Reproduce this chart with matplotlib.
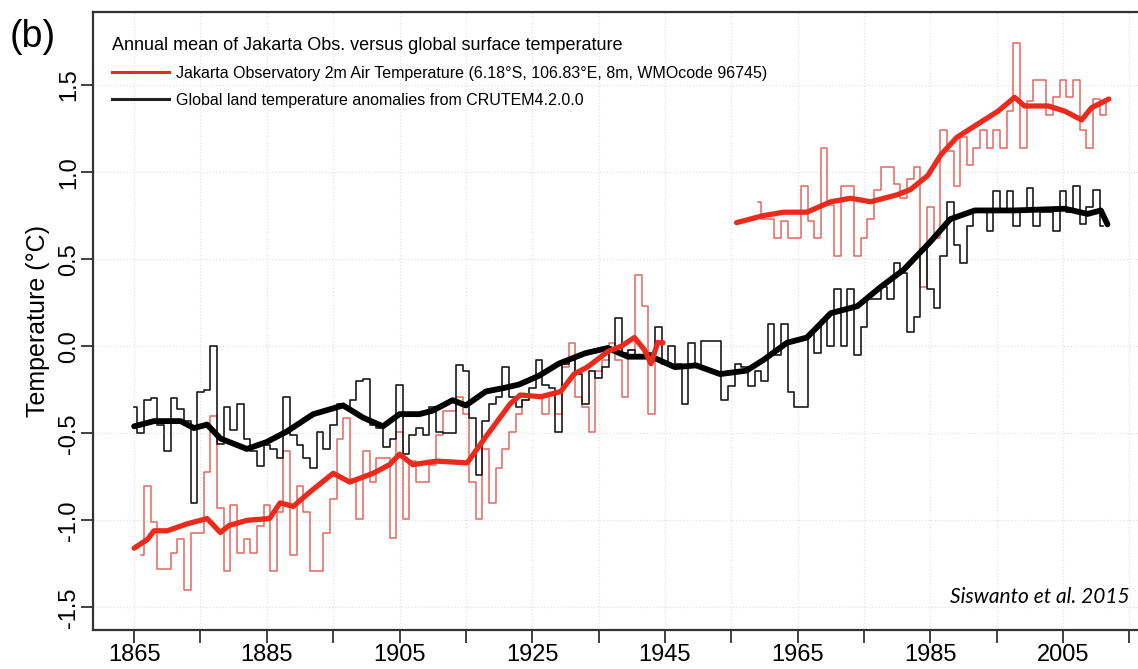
import numpy as np
import matplotlib
matplotlib.use("Agg")
import matplotlib.pyplot as plt
from matplotlib.lines import Line2D

plt.rcParams['font.family'] = ['Liberation Sans Narrow', 'Liberation Sans', 'DejaVu Sans']

# global land temperature anomalies (CRUTEM4.2.0.0), annual, 1865-2011
glob_years = np.arange(1865, 2012)
glob_vals = [
    -0.35, -0.50, -0.31, -0.30, -0.45, -0.60, -0.30, -0.36, -0.43, -0.90,
    -0.26, -0.25, 0.00, -0.56, -0.35, -0.48, -0.33, -0.53, -0.60, -0.69,
    -0.57, -0.59, -0.64, -0.29, -0.51, -0.57, -0.64, -0.70, -0.49, -0.59,
    -0.45, -0.33, -0.35, -0.31, -0.20, -0.19, -0.45, -0.47, -0.58, -0.53,
    -0.22, -0.62, -0.51, -0.47, -0.51, -0.35, -0.49, -0.50, -0.50, -0.11,
    -0.14, -0.41, -0.74, -0.43, -0.33, -0.29, -0.12, -0.29, -0.35, -0.31,
    -0.24, -0.08, -0.22, -0.24, -0.49, -0.10, -0.08, -0.16, -0.33, -0.14,
    -0.18, -0.12, -0.02, 0.16, -0.04, -0.02, -0.06, -0.06, -0.04, 0.11,
    -0.10, 0.00, -0.10, -0.33, 0.02, -0.12, 0.03, 0.03, 0.03, -0.31,
    -0.23, -0.10, -0.12, -0.23, -0.14, -0.20, 0.13, -0.05, 0.13, -0.26,
    -0.35, -0.35, 0.07, -0.04, 0.15, 0.00, 0.33, 0.00, 0.33, -0.05,
    0.11, 0.27, 0.27, 0.34, 0.27, 0.48, 0.42, 0.08, 0.17, 0.56,
    0.33, 0.22, 0.52, 0.83, 0.58, 0.48, 0.69, 0.77, 0.77, 0.66,
    0.89, 0.77, 0.89, 0.69, 0.77, 0.91, 0.69, 0.77, 0.77, 0.66,
    0.89, 0.77, 0.92, 0.70, 0.80, 0.90, 0.69,
]

# Jakarta Observatory annual mean, two segments
jak1_years = np.arange(1866, 1945)
jak1_vals = [
    -1.20, -0.80, -1.01, -1.28, -1.28, -1.19, -1.11, -1.40, -1.07, -1.07,
    -0.72, -0.40, -0.93, -1.29, -0.91, -1.19, -1.11, -1.19, -1.03, -0.91,
    -1.29, -0.95, -0.60, -1.20, -0.80, -0.95, -1.29, -1.29, -1.07, -0.88,
    -0.53, -0.41, -0.76, -0.99, -0.60, -0.78, -0.64, -0.64, -1.10, -0.49,
    -0.99, -0.66, -0.78, -0.78, -0.68, -0.51, -0.37, -0.37, -0.29, -0.39,
    -0.78, -0.99, -0.59, -0.90, -0.70, -0.59, -0.49, -0.39, -0.31, -0.29,
    -0.29, -0.39, -0.28, -0.39, -0.12, 0.02, -0.29, -0.35, -0.49, -0.14,
    -0.08, 0.02, -0.08, -0.29, -0.02, 0.41, 0.23, -0.39, 0.03,
]
jak2_years = np.arange(1959, 2013)
jak2_vals = [
    0.83, 0.73, 0.73, 0.62, 0.72, 0.62, 0.62, 0.92, 0.72, 0.62,
    1.14, 0.81, 0.52, 0.92, 0.92, 0.52, 0.62, 0.73, 0.90, 1.03,
    1.03, 0.93, 0.85, 0.96, 1.03, 0.34, 0.80, 0.62, 1.24, 1.12,
    0.92, 1.20, 1.04, 1.14, 1.24, 1.14, 1.24, 1.14, 1.35, 1.74,
    1.14, 1.41, 1.53, 1.53, 1.33, 1.43, 1.53, 1.43, 1.53, 1.24,
    1.14, 1.42, 1.33, 1.42,
]

# smoothed curves
glob_sm_years = [1865, 1868, 1872, 1874, 1876, 1878, 1882, 1885, 1888, 1892,
                 1896.5, 1899.5, 1902.5, 1905, 1908, 1910, 1913, 1915, 1918, 1920.7,
                 1923, 1926, 1929, 1933, 1936.4, 1939.4, 1943, 1946.5, 1949.7, 1953.3,
                 1957.3, 1959.8, 1963.4, 1966.4, 1970, 1974, 1977.5, 1981, 1985, 1988,
                 1991.7, 1997.7, 2005.3, 2008.7, 2010.7, 2011.7]
glob_sm_vals = [-0.46, -0.43, -0.43, -0.47, -0.45, -0.53, -0.59, -0.55, -0.49, -0.39,
                -0.34, -0.41, -0.46, -0.39, -0.39, -0.37, -0.31, -0.34, -0.26, -0.24,
                -0.22, -0.17, -0.10, -0.04, -0.01, -0.06, -0.06, -0.12, -0.11, -0.16,
                -0.14, -0.08, 0.02, 0.05, 0.19, 0.23, 0.34, 0.44, 0.60, 0.73,
                0.78, 0.78, 0.79, 0.76, 0.78, 0.70]

jak1_sm_years = [1865, 1867, 1868, 1870, 1873, 1876, 1878, 1879.3, 1882, 1885.4,
                 1887, 1889, 1891.4, 1895, 1897.5, 1901, 1903.5, 1905, 1907, 1910.6,
                 1915.2, 1918.2, 1921.7, 1923.2, 1926.3, 1929.3, 1931.3, 1933.3, 1936.4, 1938.4,
                 1940.4, 1941.9, 1942.9, 1943.9, 1944.7]
jak1_sm_vals = [-1.16, -1.11, -1.06, -1.06, -1.02, -0.99, -1.07, -1.03, -1.00, -0.99,
                -0.90, -0.92, -0.84, -0.73, -0.78, -0.73, -0.68, -0.62, -0.68, -0.66,
                -0.67, -0.51, -0.33, -0.28, -0.29, -0.26, -0.16, -0.12, -0.03, 0.00,
                0.05, -0.02, -0.10, 0.02, 0.02]

jak2_sm_years = [1955.8, 1959.8, 1962.9, 1966.4, 1970, 1973, 1976, 1980, 1982, 1984.6,
                 1986.6, 1989, 1992.7, 1995.2, 1997.7, 1999.2, 2002.8, 2005.3, 2007.8, 2009.3,
                 2011.9]
jak2_sm_vals = [0.71, 0.75, 0.77, 0.77, 0.83, 0.85, 0.83, 0.87, 0.90, 0.98,
                1.10, 1.20, 1.29, 1.35, 1.43, 1.38, 1.38, 1.35, 1.30, 1.37,
                1.42]

x_ticks = np.arange(1865, 2016, 10)
x_labels = [str(y) if (y - 1865) % 20 == 0 else '' for y in x_ticks]
y_ticks = [-1.5, -1.0, -0.5, 0.0, 0.5, 1.0, 1.5]
y_labels = ['-1.5', '-1.0', '-0.5', '0.0', '0.5', '1.0', '1.5']

fig = plt.figure(figsize=(11.38, 6.69), dpi=100)
ax = fig.add_axes([93 / 1138, 39 / 669, 1045 / 1138, 618 / 669])

red_thin = '#e4675f'
red_thick = '#ec2a1c'

ax.step(jak1_years, jak1_vals, where='mid', color=red_thin, lw=1.1)
ax.step(jak2_years, jak2_vals, where='mid', color=red_thin, lw=1.1)
ax.step(glob_years, glob_vals, where='mid', color='#1a1a1a', lw=1.2)
ax.plot(glob_sm_years, glob_sm_vals, color='black', lw=4.2, solid_capstyle='round')
ax.plot(jak1_sm_years, jak1_sm_vals, color=red_thick, lw=3.8, solid_capstyle='round')
ax.plot(jak2_sm_years, jak2_sm_vals, color=red_thick, lw=3.8, solid_capstyle='round')

ax.set_xlim(1858.8, 2016.3)
ax.set_ylim(-1.63, 1.92)
ax.set_xticks(x_ticks)
ax.set_xticklabels(x_labels, fontsize=17)
ax.set_yticks(y_ticks)
ax.set_yticklabels(y_labels, fontsize=17, rotation=90, va='center')
ax.tick_params(axis='both', direction='out', length=9, width=1.3, color='#333333')
ax.tick_params(axis='x', pad=1)
ax.tick_params(axis='y', pad=0)
ax.grid(True, color='#e2e2e2', linestyle=':', lw=0.9)
ax.spines['right'].set_visible(False)
for s in ['left', 'bottom', 'top']:
    ax.spines[s].set_linewidth(1.6)
    ax.spines[s].set_color('#333333')

ax.set_ylabel('Temperature (°C)', fontsize=18, labelpad=6)

handles = [Line2D([], [], color=red_thick, lw=2.2), Line2D([], [], color='#222222', lw=2.2)]
labels = ['Jakarta Observatory 2m Air Temperature (6.18°S, 106.83°E, 8m, WMOcode 96745)',
          'Global land temperature anomalies from CRUTEM4.2.0.0']
leg = ax.legend(handles, labels, loc='upper left', bbox_to_anchor=(0.012, 0.97),
                frameon=False, fontsize=11.5, handlelength=3.6, handletextpad=0.4,
                labelspacing=0.75, borderaxespad=0,
                title='Annual mean of Jakarta Obs. versus global surface temperature',
                title_fontsize=13, alignment='left')

fig.text(10 / 1138, 1 - 37 / 669, '(b)', fontsize=27, va='center', ha='left')
ax.text(0.992, 0.053, 'Siswanto et al. 2015', transform=ax.transAxes, ha='right', va='center',
        fontsize=15, style='italic', family=['Lato', 'DejaVu Sans'])

fig.savefig('out.png', dpi=100)
